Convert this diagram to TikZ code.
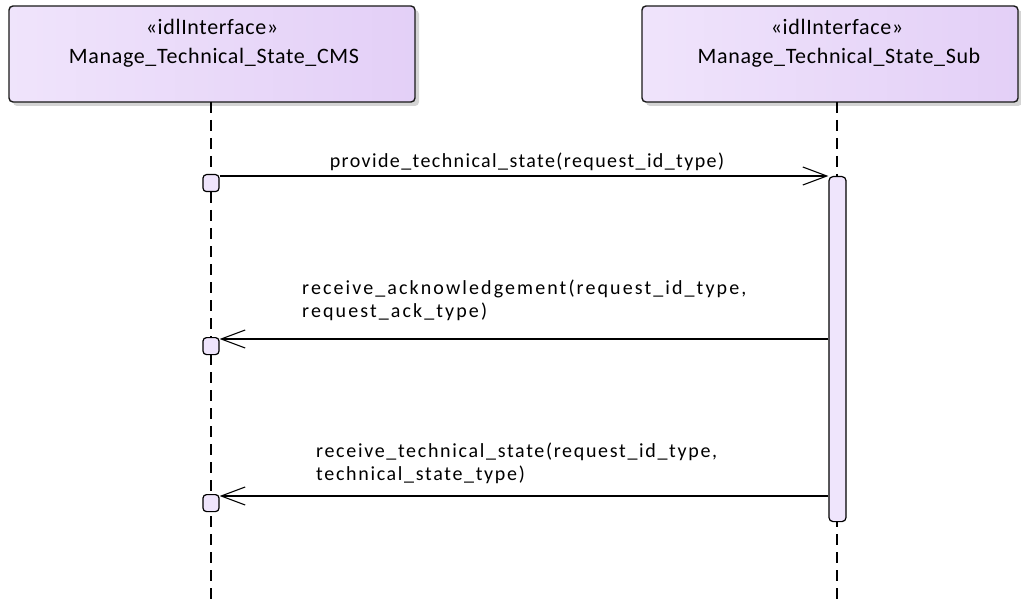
\documentclass[tikz,border=0pt]{standalone}
\usepackage{fontspec}
\setmainfont{Carlito}
\newfontfamily\lblfont[LetterSpace=7]{Carlito}
\newfontfamily\lblfontb[LetterSpace=10.5]{Carlito}
\newfontfamily\lblfontc[LetterSpace=8.4]{Carlito}
\newfontfamily\hdrfont[LetterSpace=3]{Carlito}
\usetikzlibrary{arrows.meta}
\definecolor{boxE}{HTML}{E3CFF8}
\definecolor{boxL}{HTML}{F2E8FC}
\definecolor{boxR}{HTML}{DDC5F5}
\definecolor{act}{HTML}{EFE5FC}
\definecolor{shad}{HTML}{D4D4D4}
\pgfdeclarehorizontalshading{boxshade}{100bp}{color(0bp)=(boxE); color(15bp)=(boxL); color(100bp)=(boxR)}
\tikzset{
  lifebox/.style={draw=black!90, line width=1.4pt, rounded corners=4pt, shading=boxshade},
  shadowbox/.style={fill=shad, rounded corners=4pt},
  lifeline/.style={line width=1.2pt, dash pattern=on 11pt off 7pt},
  actbar/.style={draw=black, line width=1.2pt, fill=act, rounded corners=4pt},
  port/.style={draw=black, line width=1.2pt, fill=act, rounded corners=3.5pt},
  msg/.style={line width=1.1pt, -{Straight Barb[length=24pt,width=18pt,line width=1.1pt]}},
  lbl/.style={font=\lblfont\fontsize{20}{23}\selectfont, align=left, inner sep=0pt},
  hdr/.style={font=\hdrfont\fontsize{22}{26}\selectfont, inner sep=0pt}
}
\begin{document}
\begin{tikzpicture}[x=1pt,y=1pt]
\useasboundingbox (0,0) rectangle (1021,-599);
% shadows
\fill[shadowbox] (13,-10) rectangle (419,-106);
\fill[shadowbox] (646,-10) rectangle (1022,-106);
% boxes
\path[lifebox] (9,-6) rectangle (415,-102);
\path[lifebox] (642,-6) rectangle (1018,-102);
\node[hdr] (s1) at (212,-27) {«idlInterface»};
\node[hdr] (n1) at (214,-58) {Manage\_Technical\_State\_CMS};
\node[hdr] (s2) at (837,-27) {«idlInterface»};
\node[hdr] (n2) at (839,-58) {Manage\_Technical\_State\_Sub};
\coordinate (l1top) at (211,-102);
\coordinate (l1bot) at (211,-599);
\coordinate (l2top) at (837,-102);
\coordinate (l2bot) at (837,-599);
% lifelines
\draw[lifeline] (l1top) -- (l1bot);
\draw[lifeline] (l2top) -- (l2bot);
% activation bar
\node[actbar, minimum width=17pt, minimum height=345pt, inner sep=0pt, anchor=north] (bar) at (837.5,-176) {};
% ports
\node[port, minimum width=16pt, minimum height=17pt, inner sep=0pt, anchor=north] (p1) at (211,-174) {};
\node[port, minimum width=16pt, minimum height=17pt, inner sep=0pt, anchor=north] (p2) at (211,-337) {};
\node[port, minimum width=16pt, minimum height=17pt, inner sep=0pt, anchor=north] (p3) at (211,-494) {};
% messages
\coordinate (m1s) at (p1.north east |- 0,-176);
\coordinate (m1e) at (bar.west |- 0,-176);
\draw[msg] (m1s) -- (m1e);
\coordinate (m2s) at (bar.west |- 0,-339);
\coordinate (m2e) at (p2.east |- 0,-339);
\draw[msg] (m2s) -- (m2e);
\coordinate (m3s) at (bar.west |- 0,-496);
\coordinate (m3e) at (p3.east |- 0,-496);
\draw[msg] (m3s) -- (m3e);
% labels
\node[lbl] (t1) at (527,-162) {provide\_technical\_state(request\_id\_type)};
\node[lbl, font=\lblfontb\fontsize{20}{23}\selectfont, anchor=west] (t2) at (302,-300) {receive\_acknowledgement(request\_id\_type,\\request\_ack\_type)};
\node[lbl, font=\lblfontc\fontsize{20}{23}\selectfont, anchor=west] (t3) at (316,-463) {receive\_technical\_state(request\_id\_type,\\technical\_state\_type)};
\end{tikzpicture}
\end{document}
